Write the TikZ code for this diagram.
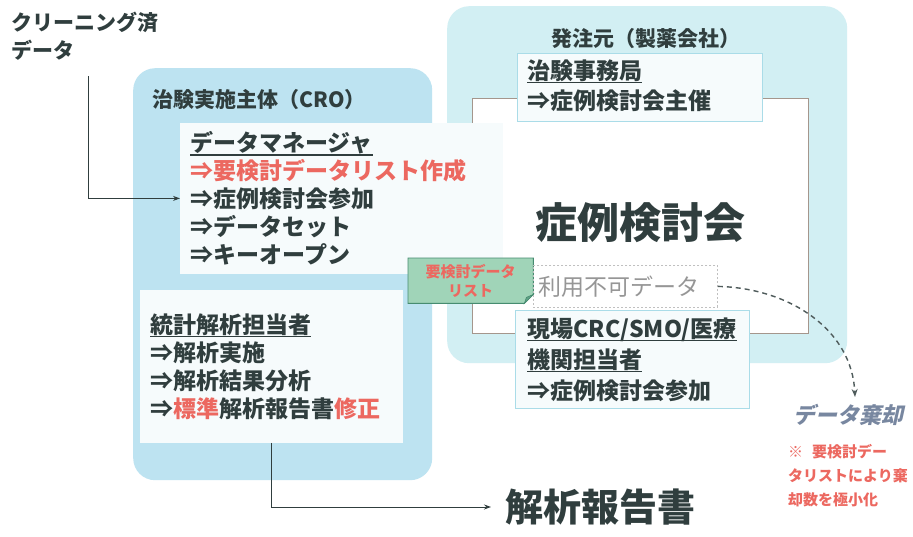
\documentclass[tikz,border=0pt]{standalone}
\usepackage{fontspec}
\setmainfont{Noto Sans CJK JP}
\newfontfamily\jpit{Noto Sans CJK JP}[FakeSlant=0.22]
\usetikzlibrary{arrows.meta}
\definecolor{txt}{RGB}{48,62,62}
\definecolor{redt}{RGB}{236,104,96}
\definecolor{crofill}{RGB}{189,227,241}
\definecolor{spfill}{RGB}{210,239,243}
\definecolor{boxfill}{RGB}{246,251,252}
\definecolor{boxline}{RGB}{170,220,232}
\definecolor{brownline}{RGB}{165,150,140}
\definecolor{notefill}{RGB}{160,212,184}
\definecolor{noteline}{RGB}{70,140,112}
\definecolor{greyt}{RGB}{150,150,150}
\definecolor{rejt}{RGB}{120,135,160}
\newcommand{\myul}[1]{\leavevmode\setbox0\hbox{#1}\rlap{\color{txt}\rule[-4pt]{\wd0}{1.3pt}}\box0}
\begin{document}
\begin{tikzpicture}[x=1pt,y=-1pt,
  every node/.style={text=txt},
  group/.style={rounded corners=22pt, anchor=north west, inner sep=0},
  whitebox/.style={draw=boxline, fill=boxfill, line width=0.8pt, anchor=north west, inner xsep=10pt, inner ysep=0pt, align=left, font=\fontsize{23}{28}\selectfont\bfseries},
  title/.style={font=\fontsize{21}{24}\selectfont\bfseries, inner sep=0},
  arr/.style={draw=txt, line width=0.9pt, -{Stealth[length=7pt,width=5pt]}},
  dasharr/.style={draw=txt!85, line width=1.4pt, dash pattern=on 5pt off 4pt, -{Stealth[length=8pt,width=6pt]}}
]
\useasboundingbox (0,0) rectangle (913,536);
\fill[white] (0,0) rectangle (913,536);

% sponsor group
\node[group, fill=spfill, minimum width=400pt, minimum height=357pt] (sp) at (447,6) {};
\node[title] (spt) at (646,39) {発注元（製薬会社）};
\node[draw=brownline, fill=white, line width=1.2pt, anchor=north west, minimum width=336pt, minimum height=235pt, inner sep=0] (meet) at (472,98) {};
\node[font=\fontsize{42}{46}\selectfont\bfseries, inner sep=0] (mt) at (640,223) {症例検討会};
\node[whitebox, minimum width=245pt, minimum height=68pt, text width=225pt, font=\fontsize{23}{30}\selectfont\bfseries] (off) at (517,53) {\myul{治験事務局}\\⇒症例検討会主催\rule[-6pt]{0pt}{1pt}};
\node[whitebox, inner xsep=12pt, minimum width=234pt, minimum height=98pt, text width=210pt, font=\fontsize{23}{31}\selectfont\bfseries] (site) at (515,310) {\myul{現場CRC/SMO/医療}\\\myul{機関担当者}\\⇒症例検討会参加};

% CRO group
\node[group, fill=crofill, minimum width=299pt, minimum height=412pt] (cro) at (133,68) {};
\node[title, anchor=west] (crot) at (152,100) {治験実施主体（CRO）};
\node[whitebox, draw=boxfill, minimum width=322pt, minimum height=150pt, text width=302pt] (dm) at (180,123) {\myul{データマネージャ}\\\textcolor{redt}{⇒要検討データリスト作成}\\⇒症例検討会参加\\⇒データセット\\⇒キーオープン};
\node[whitebox, draw=boxfill, minimum width=262pt, minimum height=152pt, text width=242pt] (st) at (140,290) {\myul{統計解析担当者}\\⇒解析実施\\⇒解析結果分析\\⇒\textcolor{redt}{標準}解析報告書\textcolor{redt}{修正}};

% note
\node[anchor=north west, minimum width=125pt, minimum height=45pt, inner sep=0] (gn) at (408,258) {};
\fill[notefill, draw=noteline, line width=0.9pt] (gn.north west) -- (gn.north east) -- ([yshift=9pt]gn.south east) -- ([xshift=-9pt]gn.south east) -- (gn.south west) -- cycle;
\fill[noteline!70!notefill, draw=noteline, line width=0.6pt] ([yshift=9pt]gn.south east) -- ([xshift=-9pt]gn.south east) -- ([xshift=-7pt,yshift=6pt]gn.south east) -- cycle;
\node[align=center, font=\fontsize{15}{19}\selectfont\bfseries, text=redt, inner sep=0] (gnt) at (gn.center) {要検討データ\\リスト};

% unavailable data
\node[draw=greyt!60, dash pattern=on 2pt off 2pt, line width=0.8pt, anchor=north west, minimum width=184pt, minimum height=42pt, inner xsep=5pt, inner ysep=0, text width=174pt, align=left, font=\fontsize{23}{26}\selectfont, text=greyt] (nu) at (533,265) {利用不可データ};

% texts outside
\node[anchor=west, align=left, inner sep=0, font=\fontsize{21}{28}\selectfont\bfseries] (cl) at (11,36) {クリーニング済\\データ};
\node[anchor=west, inner sep=0, font=\fontsize{38}{42}\selectfont\bfseries] (rep) at (505,507) {解析報告書};
\node[inner sep=2pt, font=\fontsize{22}{26}\selectfont\jpit\bfseries, text=rejt] (rej) at (848,415) {データ棄却};
\node[anchor=west, align=left, inner sep=0, font=\fontsize{15}{24}\selectfont\bfseries, text=redt] (rn) at (788,476) {※\hspace{0.6em}要検討デー\\タリストにより棄\\却数を極小化};

% connectors
\coordinate (c1) at (88,76);
\draw[arr] (c1) |- (dm.west);
\draw[arr, shorten >=14pt] (st.south) |- (rep.west);
\coordinate (dtip) at (855,397);
\draw[dasharr] (nu.east) .. controls (790,288) and (852,330) .. (dtip);
\end{tikzpicture}
\end{document}
